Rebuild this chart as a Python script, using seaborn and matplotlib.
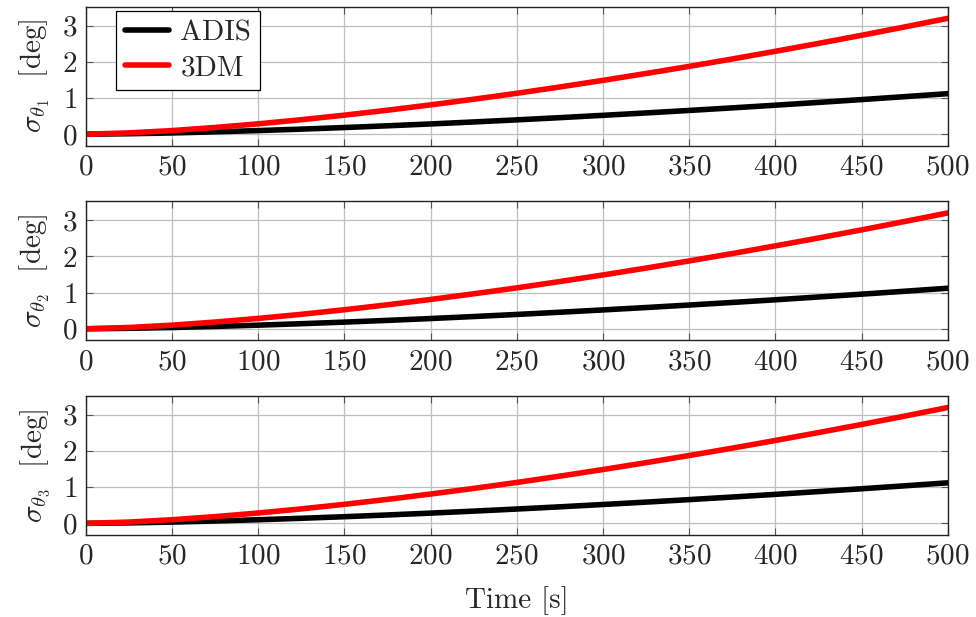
import numpy as np
import pandas as pd
import matplotlib
matplotlib.use('Agg')
import matplotlib.pyplot as plt
import seaborn as sns

# values (same curves in all three panels)
time_s = [0, 25, 50, 75, 100, 125, 150, 175, 200, 225, 250,
          275, 300, 325, 350, 375, 400, 425, 450, 475, 500]
adis = [0.0, 0.013, 0.035, 0.065, 0.10, 0.14, 0.184, 0.232, 0.283, 0.338, 0.396,
        0.457, 0.521, 0.587, 0.656, 0.727, 0.801, 0.878, 0.956, 1.037, 1.12]
dm3 = [0.0, 0.036, 0.10, 0.186, 0.286, 0.40, 0.526, 0.663, 0.81, 0.966, 1.13,
       1.305, 1.487, 1.677, 1.874, 2.078, 2.29, 2.508, 2.732, 2.963, 3.2]
ylabels = [r'$\sigma_{\theta_1}$  [deg]', r'$\sigma_{\theta_2}$  [deg]',
           r'$\sigma_{\theta_3}$  [deg]']
xticks = list(range(0, 501, 50))
yticks = [0, 1, 2, 3]

sns.set_theme(style='whitegrid')
plt.rcParams['font.family'] = 'serif'
plt.rcParams['font.serif'] = ['cmr10']
plt.rcParams['mathtext.fontset'] = 'cm'
plt.rcParams['axes.formatter.use_mathtext'] = True
plt.rcParams['axes.unicode_minus'] = False

FS = 21

df = pd.DataFrame({'t': time_s, 'ADIS': adis, '3DM': dm3})
long = df.melt(id_vars='t', var_name='sensor', value_name='sigma')

fig, axes = plt.subplots(3, 1, figsize=(9.76, 6.17), dpi=100)
fig.subplots_adjust(left=0.088, right=0.971, top=0.989, bottom=0.133, hspace=0.40)

for i, ax in enumerate(axes):
    sns.lineplot(data=long, x='t', y='sigma', hue='sensor',
                 palette={'ADIS': 'black', '3DM': '#ff0000'},
                 linewidth=4.0, ax=ax, legend=(i == 0))
    ax.set_xlim(0, 500)
    ax.set_ylim(-0.32, 3.52)
    ax.set_xticks(xticks)
    ax.set_yticks(yticks)
    ax.set_xlabel('')
    ax.set_ylabel(ylabels[i], fontsize=FS, labelpad=7)
    ax.grid(True, color='#bfbfbf', linewidth=0.9)
    for sp in ax.spines.values():
        sp.set_color('#222222')
        sp.set_linewidth(1.0)
    ax.tick_params(axis='both', direction='in', length=5, width=0.8,
                   color='#555555', labelsize=FS, top=True, right=True,
                   bottom=True, left=True, pad=6)
    ax.set_facecolor('white')

leg = axes[0].legend(loc='upper left', fontsize=FS, frameon=True, fancybox=False,
                     edgecolor='black', framealpha=1, borderpad=0.3,
                     handlelength=1.5, handletextpad=0.4, labelspacing=0.3,
                     borderaxespad=0.15, bbox_to_anchor=(0.03, 1.0))
leg.get_frame().set_linewidth(0.9)
for h in leg.get_lines():
    h.set_linewidth(4.0)

axes[2].set_xlabel('Time [s]', fontsize=FS, labelpad=12)

fig.savefig('out.png', dpi=100, facecolor='white')
